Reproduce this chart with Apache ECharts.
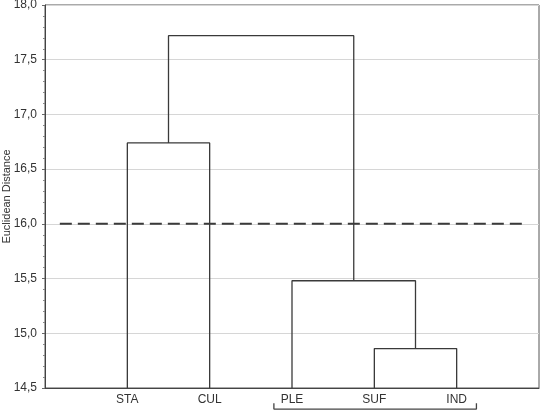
<!DOCTYPE html>
<html>
<head>
<meta charset="utf-8">
<script src="https://cdn.jsdelivr.net/npm/echarts@6/dist/echarts.min.js"></script>
<style>
  html, body { margin: 0; padding: 0; background: #fff; }
  #chart { width: 541px; height: 411px; }
</style>
</head>
<body>
<div id="chart"></div>
<script>
// leaves of the dendrogram, left to right
const leaves = ['STA', 'CUL', 'PLE', 'SUF', 'IND'];
// merges: node a + node b at a linkage height (nodes 0-4 are leaves, 5+ are merges in order)
const mergeA = [3, 2, 0, 7];
const mergeB = [4, 5, 1, 6];
const mergeHeights = [14.86, 15.48, 16.74, 17.72];
const cutHeight = 16.0;
const yTicks = ['14,5', '15,0', '15,5', '16,0', '16,5', '17,0', '17,5', '18,0'];

const yMin = 14.5;
const nodeX = leaves.map((_, i) => i + 1);
const nodeY = leaves.map(() => yMin);
const linkSeries = [];
mergeA.forEach((a, i) => {
  const b = mergeB[i];
  const h = mergeHeights[i];
  linkSeries.push({
    type: 'line',
    data: [[nodeX[a], nodeY[a]], [nodeX[a], h], [nodeX[b], h], [nodeX[b], nodeY[b]]],
    symbol: 'none',
    lineStyle: { color: '#3a3a3a', width: 1.3 },
    silent: true
  });
  nodeX.push((nodeX[a] + nodeX[b]) / 2);
  nodeY.push(h);
});

const chart = echarts.init(document.getElementById('chart'));
chart.setOption({
  backgroundColor: '#fff',
  animation: false,
  grid: {
    left: 45, right: 2, top: 5, bottom: 23,
    show: true, borderColor: '#555', borderWidth: 1,
    outerBoundsMode: 'none'
  },
  xAxis: {
    type: 'value',
    min: 0, max: 6, interval: 1,
    axisLine: { lineStyle: { color: '#444' } },
    axisTick: { show: false },
    splitLine: { show: false },
    axisLabel: {
      color: '#333', fontSize: 12, fontFamily: 'Liberation Sans', margin: 6,
      formatter: v => leaves[v - 1] || ''
    }
  },
  yAxis: {
    type: 'value',
    min: 14.5, max: 18, interval: 0.5,
    name: 'Euclidean Distance',
    nameLocation: 'middle',
    nameGap: 33,
    nameMoveOverlap: false,
    nameTextStyle: { color: '#333', fontSize: 11, fontFamily: 'Liberation Sans' },
    axisLine: { lineStyle: { color: '#444' } },
    axisTick: { length: 3, lineStyle: { color: '#666' } },
    minorTick: { show: true, splitNumber: 5, length: 2, lineStyle: { color: '#888' } },
    splitLine: { lineStyle: { color: '#d6d6d6', width: 1 } },
    axisLabel: {
      color: '#333', fontSize: 12, fontFamily: 'Liberation Sans', margin: 8,
      formatter: v => yTicks[Math.round((v - yMin) / 0.5)]
    }
  },
  series: linkSeries.concat([
    {
      type: 'line',
      data: [[0.18, cutHeight], [5.84, cutHeight]],
      symbol: 'none',
      silent: true,
      lineStyle: { color: '#3a3a3a', width: 2, type: [12, 6] }
    },
    {
      type: 'line',
      data: [[2.78, 14.36], [2.78, 14.307], [5.24, 14.307], [5.24, 14.36]],
      symbol: 'none',
      silent: true,
      clip: false,
      lineStyle: { color: '#444', width: 1.3 }
    }
  ])
});
</script>
</body>
</html>
